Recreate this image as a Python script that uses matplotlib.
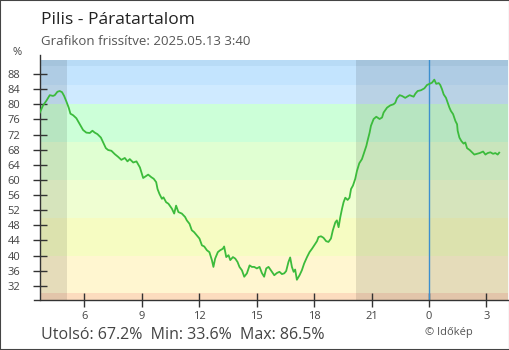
import matplotlib.pyplot as plt
from matplotlib.patches import Rectangle

plt.rcParams['font.family'] = ['Open Sans', 'DejaVu Sans']

station = "Pilis"
updated = "2025.05.13 3:40"

# decimal hours from midnight of the first day (24 = next midnight)
hours = [3.67, 3.75, 3.84, 4.01, 4.19, 4.36, 4.45, 4.59, 4.71, 4.83, 4.94, 5.06,
         5.18, 5.27, 5.41, 5.58, 5.76, 5.93, 6.10, 6.28, 6.42, 6.54, 6.68, 6.86,
         6.98, 7.12, 7.24, 7.41, 7.59, 7.76, 7.93, 8.11, 8.25, 8.37, 8.55, 8.72,
         8.90, 9.07, 9.19, 9.33, 9.50, 9.62, 9.75, 9.82, 9.92, 10.05, 10.13, 10.27,
         10.39, 10.57, 10.69, 10.79, 10.91, 11.09, 11.26, 11.35, 11.49, 11.61, 11.73, 11.88,
         12.01, 12.14, 12.26, 12.40, 12.53, 12.66, 12.74, 12.83, 12.97, 13.09, 13.23, 13.30,
         13.41, 13.53, 13.62, 13.76, 13.88, 14.00, 14.10, 14.23, 14.35, 14.49, 14.63, 14.75,
         14.87, 15.01, 15.15, 15.27, 15.39, 15.50, 15.62, 15.80, 15.92, 16.06, 16.19, 16.32,
         16.44, 16.54, 16.66, 16.75, 16.84, 16.93, 17.01, 17.10, 17.24, 17.36, 17.48, 17.63,
         17.76, 17.89, 18.01, 18.15, 18.23, 18.36, 18.49, 18.63, 18.75, 18.88, 18.98, 19.11,
         19.19, 19.28, 19.37, 19.46, 19.54, 19.63, 19.75, 19.85, 19.93, 20.03, 20.15, 20.24,
         20.36, 20.50, 20.62, 20.73, 20.79, 20.90, 20.97, 21.11, 21.25, 21.42, 21.55, 21.63,
         21.81, 21.98, 22.15, 22.24, 22.33, 22.47, 22.59, 22.76, 22.99, 23.20, 23.29, 23.41,
         23.58, 23.76, 23.90, 24.03, 24.16, 24.28, 24.38, 24.51, 24.59, 24.68, 24.77, 24.89,
         24.98, 25.07, 25.15, 25.26, 25.38, 25.47, 25.50, 25.59, 25.69, 25.81, 25.90, 25.99,
         26.13, 26.25, 26.37, 26.51, 26.65, 26.83, 26.95, 27.07, 27.21, 27.35, 27.47, 27.59,
         27.67]
humidity = [77.8, 78.7, 79.7, 80.9, 82.4, 82.2, 82.4, 83.3, 83.5, 83.2, 82.2, 80.7,
            79.1, 77.5, 77.1, 76.3, 74.7, 73.2, 72.5, 72.4, 73.0, 72.5, 72.1, 71.2,
            69.9, 68.4, 67.9, 67.7, 66.8, 66.1, 65.3, 65.8, 64.9, 65.5, 64.6, 64.9,
            63.3, 60.5, 60.9, 61.4, 60.7, 60.3, 59.4, 57.6, 56.3, 55.0, 55.4, 54.1,
            53.7, 52.4, 51.1, 53.2, 51.5, 51.1, 50.2, 49.3, 48.4, 46.7, 46.2, 45.3,
            44.5, 42.7, 42.4, 41.4, 40.9, 38.8, 37.0, 39.2, 40.9, 41.4, 41.8, 42.4,
            39.6, 40.1, 38.8, 39.6, 39.2, 38.3, 37.0, 36.1, 34.4, 35.3, 37.4, 37.0,
            37.0, 36.6, 37.0, 35.4, 34.4, 36.6, 37.0, 35.7, 34.8, 35.4, 35.7, 35.1,
            35.3, 35.9, 38.3, 39.5, 37.0, 35.7, 36.3, 33.6, 34.8, 36.1, 37.9, 39.6,
            40.9, 41.8, 42.7, 43.8, 44.9, 45.1, 44.7, 43.8, 43.6, 44.5, 46.7, 48.8,
            49.3, 47.5, 50.2, 52.4, 54.1, 55.3, 54.7, 55.3, 57.6, 58.5, 60.3, 62.4,
            64.4, 65.5, 67.3, 69.0, 70.3, 72.5, 74.3, 76.1, 76.7, 76.1, 76.5, 77.8,
            79.1, 79.7, 80.0, 80.4, 81.6, 82.4, 82.2, 81.7, 82.4, 82.0, 82.8, 83.5,
            83.7, 84.2, 85.1, 85.4, 85.7, 86.5, 85.4, 85.6, 85.1, 84.0, 82.6, 81.7,
            80.4, 79.1, 78.2, 77.4, 75.6, 74.7, 73.0, 71.2, 70.3, 69.6, 69.9, 68.4,
            67.9, 67.3, 66.7, 66.9, 67.1, 67.5, 66.7, 67.1, 67.3, 66.9, 67.1, 66.7,
            67.2]

yticks = [32, 36, 40, 44, 48, 52, 56, 60, 64, 68, 72, 76, 80, 84, 88]
xticks = [6, 9, 12, 15, 18, 21, 24, 27]
xlabels = ['6', '9', '12', '15', '18', '21', '0', '3']

# humidity bands (lower, upper, colour)
band_edges = [0, 30, 40, 50, 60, 70, 80, 85, 90, 100]
band_colors = ['#fcdcbe', '#fff6d0', '#f6fcc2', '#effed2', '#e0ffd2',
               '#ccffd8', '#cfeaff', '#c3e4fe', '#b8dbf6']

sunrise, sunset = 5.07, 20.2

fig = plt.figure(figsize=(5.1, 3.5), dpi=100)
ax = fig.add_axes([40 / 510, 50 / 350, 468 / 510, 240 / 350])

for lo, hi, c in zip(band_edges[:-1], band_edges[1:], band_colors):
    ax.axhspan(lo, hi, color=c, lw=0, zorder=0)

# night
ax.axvspan(0, sunrise, color='black', alpha=0.1, lw=0, zorder=1)
ax.axvspan(sunset, 30, color='black', alpha=0.1, lw=0, zorder=1)

ax.axvline(24, color='#3d8fce', lw=1, zorder=2)
ax.plot(hours, humidity, color='#3cbb3c', lw=1.3, zorder=3)

ax.set_xlim(3.68, 28.13)
ax.set_ylim(28.25, 91.7)
ax.set_xticks(xticks)
ax.set_xticklabels(xlabels)
ax.set_yticks(yticks)

for s in ['top', 'right']:
    ax.spines[s].set_visible(False)
for s in ['left', 'bottom']:
    ax.spines[s].set_color('#333333')
    ax.spines[s].set_linewidth(1)
ax.spines['left'].set_bounds(28.25, 93)
ax.spines['bottom'].set_bounds(3.37, 28.2)

ax.tick_params(axis='both', direction='inout', length=10, width=1,
               color='#333333', labelcolor='#444444', labelsize=8)
ax.tick_params(axis='y', pad=9)
ax.tick_params(axis='x', pad=3)

fig.text(41 / 510, 1 - 24 / 350, f"{station} - Páratartalom", fontsize=12.5,
         color='#222222', va='baseline')
fig.text(41 / 510, 1 - 45 / 350, f"Grafikon frissítve: {updated}", fontsize=9.5,
         color='#555555', va='baseline')
fig.text(22 / 510, 1 - 55 / 350, "%", fontsize=8, color='#444444',
         ha='right', va='baseline')

stats = (f"Utolsó: {humidity[-1]:.1f}%  Min: {min(humidity):.1f}%  "
         f"Max: {max(humidity):.1f}%")
fig.text(41 / 510, 1 - 339 / 350, stats, fontsize=11.5, color='#444444',
         va='baseline')
fig.text(425 / 510, 1 - 335 / 350, "© Időkép", fontsize=8, color='#555555',
         va='baseline')

fig.add_artist(Rectangle((0, 0), 1, 1, transform=fig.transFigure, fill=False,
                         edgecolor='#444444', lw=1.5))

fig.savefig('out.png', dpi=100)
